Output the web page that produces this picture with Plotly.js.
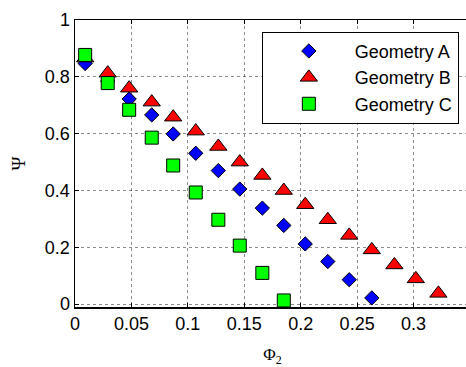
<!DOCTYPE html>
<html>
<head>
<meta charset="utf-8">
<script src="https://cdn.plot.ly/plotly-3.0.1.min.js"></script>
<style>html,body{margin:0;padding:0;overflow:hidden;background:#fff;}</style>
</head>
<body>
<div id="chart"></div>
<script>
// Φ2 positions
var xA = [0.009, 0.029, 0.048, 0.068, 0.087, 0.107, 0.127, 0.146, 0.166, 0.185, 0.204, 0.224, 0.243, 0.263];
var yA = [0.847, 0.785, 0.722, 0.666, 0.599, 0.531, 0.470, 0.405, 0.338, 0.277, 0.212, 0.150, 0.086, 0.022];

var xB = [0.009, 0.029, 0.048, 0.068, 0.087, 0.107, 0.127, 0.146, 0.166, 0.185, 0.204, 0.224, 0.243, 0.263, 0.283, 0.302, 0.322];
var yB = [0.866, 0.813, 0.760, 0.711, 0.658, 0.609, 0.555, 0.500, 0.453, 0.400, 0.350, 0.297, 0.242, 0.191, 0.138, 0.089, 0.038];

var xC = [0.009, 0.029, 0.048, 0.068, 0.087, 0.107, 0.127, 0.146, 0.166, 0.185];
var yC = [0.877, 0.778, 0.684, 0.586, 0.488, 0.393, 0.297, 0.206, 0.110, 0.013];

var seriesNames = ['Geometry A', 'Geometry B', 'Geometry C'];
var xTicks = [0, 0.05, 0.1, 0.15, 0.2, 0.25, 0.3];
var xTickText = ['0', '0.05', '0.1', '0.15', '0.2', '0.25', '0.3'];
var yTicks = [0, 0.2, 0.4, 0.6, 0.8, 1];
var yTickText = ['0', '0.2', '0.4', '0.6', '0.8', '1'];

var edge = {color: '#000', width: 1};
var traces = [
  {x: xA, y: yA, name: seriesNames[0], type: 'scatter', mode: 'markers',
   marker: {symbol: 'diamond', size: 11, color: '#0000ff', line: edge}},
  {x: xB, y: yB, name: seriesNames[1], type: 'scatter', mode: 'markers',
   marker: {symbol: 'triangle-up', size: 15, color: '#ff0000', line: edge}},
  {x: xC, y: yC, name: seriesNames[2], type: 'scatter', mode: 'markers',
   marker: {symbol: 'square', size: 13, color: '#00ff00', line: edge}}
];

var axisCommon = {
  showline: true, linecolor: '#000', linewidth: 1.5, mirror: 'ticks',
  ticks: 'inside', ticklen: 4, tickcolor: '#000', tickwidth: 1,
  showgrid: true, gridcolor: 'rgba(0,0,0,0.45)', griddash: 'dot', gridwidth: 1,
  zeroline: false,
  tickfont: {family: 'Liberation Sans, Arial, sans-serif', size: 18, color: '#000'}
};

var layout = {
  width: 470, height: 367,
  margin: {l: 75, r: 0, t: 20, b: 60},
  paper_bgcolor: '#fff', plot_bgcolor: '#fff',
  showlegend: true,
  xaxis: Object.assign({}, axisCommon, {
    range: [0, 0.35], tickvals: xTicks, ticktext: xTickText,
    title: {text: 'Φ<sub>2</sub>', font: {family: 'Liberation Serif, Times New Roman, serif', size: 17, color: '#000'}, standoff: 18}
  }),
  yaxis: Object.assign({}, axisCommon, {
    range: [-0.01, 1], tickvals: yTicks, ticktext: yTickText,
    title: {text: 'Ψ', font: {family: 'Liberation Serif, Times New Roman, serif', size: 19, color: '#000'}, standoff: 14}
  }),
  legend: {
    x: 0.473, y: 0.959, xanchor: 'left', yanchor: 'top',
    bgcolor: '#fff', bordercolor: '#000', borderwidth: 1,
    font: {family: 'Liberation Sans, Arial, sans-serif', size: 18, color: '#000'},
    itemwidth: 82
  }
};

Plotly.newPlot('chart', traces, layout, {displayModeBar: false, staticPlot: true});
</script>
</body>
</html>
